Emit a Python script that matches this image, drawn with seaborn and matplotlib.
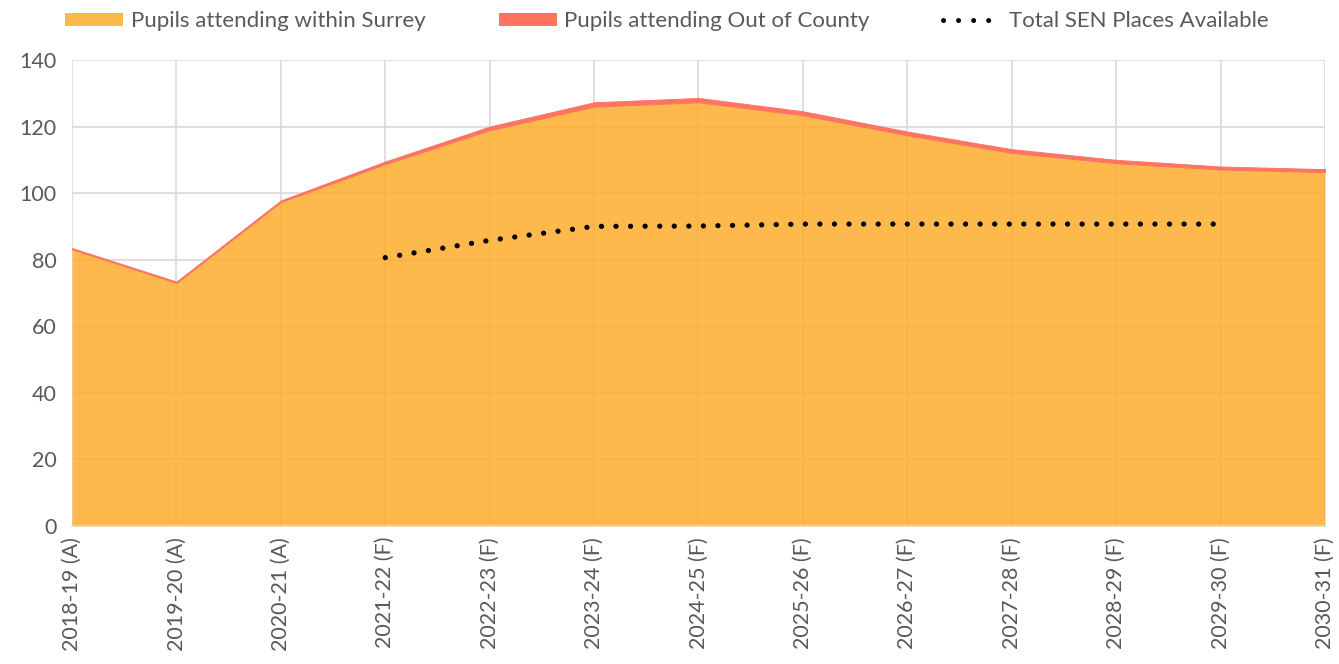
import numpy as np
import matplotlib
matplotlib.use("Agg")
import matplotlib.pyplot as plt
from matplotlib.patches import Patch
from matplotlib.lines import Line2D
import seaborn as sns

# values
categories = ["2018-19 (A)", "2019-20 (A)", "2020-21 (A)", "2021-22 (F)", "2022-23 (F)",
              "2023-24 (F)", "2024-25 (F)", "2025-26 (F)", "2026-27 (F)", "2027-28 (F)",
              "2028-29 (F)", "2029-30 (F)", "2030-31 (F)"]
within_surrey = [83.1, 73.0, 97.3, 108.7, 118.9, 126.0, 127.3, 123.4, 117.4, 112.1, 109.0, 107.1, 106.3]
out_of_county = [0.4, 0.4, 0.5, 0.8, 1.1, 1.3, 1.3, 1.2, 1.1, 1.1, 1.0, 0.9, 0.9]
sen_categories = categories[3:12]
sen_places = [80.6, 85.8, 90.0, 90.1, 90.7, 90.7, 90.7, 90.7, 90.7]

orange = "#FDAD2C"
red = "#FF7361"
grey_text = "#595959"
grid_col = "#D9D9D9"

sns.set_theme(style="white")
plt.rcParams["font.family"] = ["Lato", "DejaVu Sans"]

fig = plt.figure(figsize=(13.39, 6.64), dpi=100)
ax = fig.add_axes([0.0538, 0.2081, 0.9357, 0.7015])

x = np.arange(len(categories))
polys = ax.stackplot(x, within_surrey, out_of_county, colors=[orange, red], zorder=2)
polys[0].set_alpha(0.85)
polys[0].set_linewidth(0)
polys[1].set_edgecolor(red)
polys[1].set_linewidth(0.7)

sen_x = [categories.index(c) for c in sen_categories]
sns.lineplot(x=sen_x, y=sen_places, ax=ax, color="black", linewidth=3.8,
             linestyle=(0, (0.01, 2.75)), dash_capstyle="round", zorder=4)

ax.set_xlim(0, len(categories) - 1)
ax.set_ylim(0, 140)
ax.set_yticks(range(0, 141, 20))
ax.set_xticks(x)
ax.set_xticklabels(categories, rotation=90)
ax.grid(True, color=grid_col, linewidth=1.2, zorder=0)
ax.set_axisbelow(True)
for s in ["top", "right", "left"]:
    ax.spines[s].set_visible(False)
ax.spines["bottom"].set_color(grid_col)
ax.tick_params(axis="both", length=0, labelsize=15.5, colors=grey_text)
ax.tick_params(axis="x", pad=8)
ax.tick_params(axis="y", pad=11)

handles = [Patch(facecolor="#FDB94C", edgecolor="none"),
           Patch(facecolor=red, edgecolor="none"),
           Line2D([0], [0], color="black", linewidth=3.6, linestyle=(0, (0.01, 3.0)),
                  dash_capstyle="round")]
labels = ["Pupils attending within Surrey", "Pupils attending Out of County",
          "Total SEN Places Available"]
leg = fig.legend(handles, labels, loc="center", bbox_to_anchor=(0.498, 0.968), ncol=3,
                 frameon=False, fontsize=16, handlelength=2.6, handleheight=0.55,
                 handletextpad=0.35, columnspacing=3.3)
for t in leg.get_texts():
    t.set_color(grey_text)

fig.savefig("out.png", dpi=100)
